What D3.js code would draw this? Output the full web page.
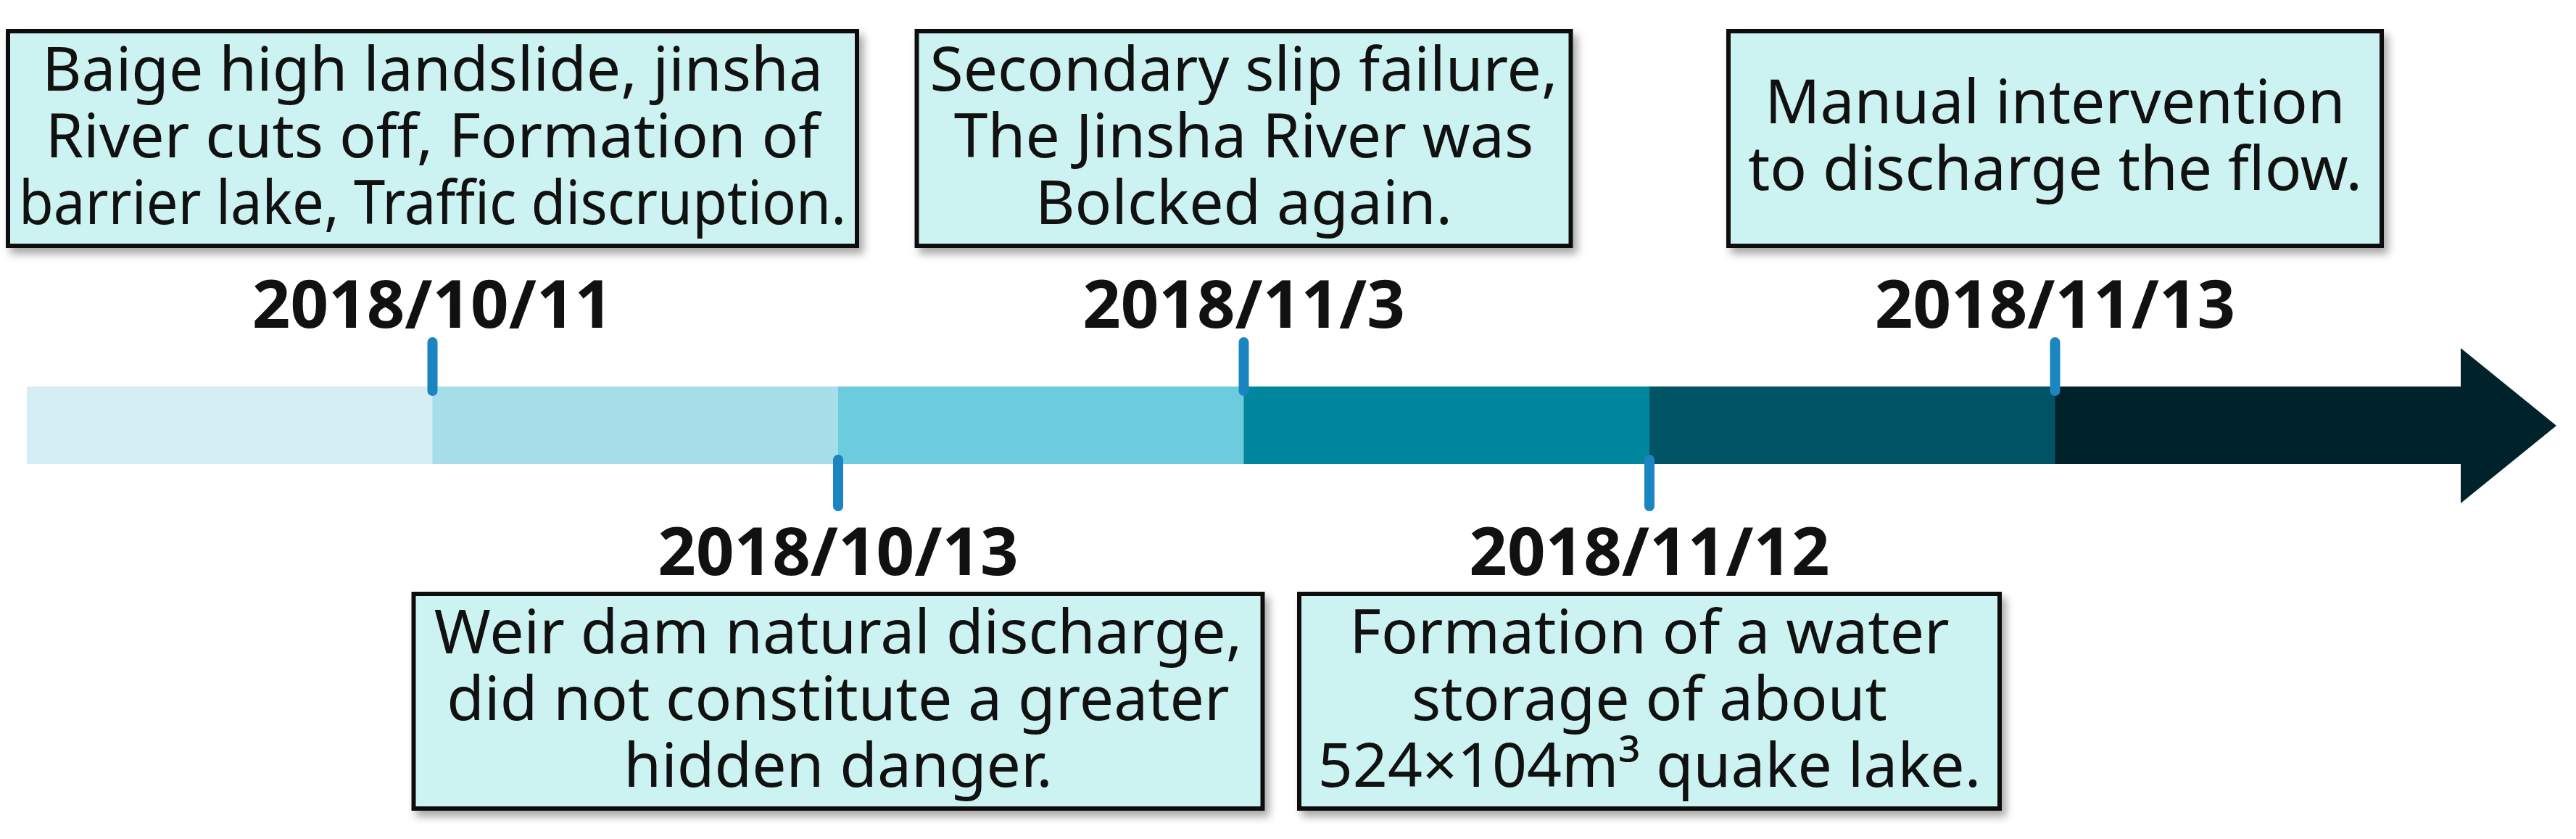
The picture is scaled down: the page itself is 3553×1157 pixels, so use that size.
<!DOCTYPE html>
<html>
<head>
<meta charset="utf-8">
<script src="https://cdn.jsdelivr.net/npm/d3@7"></script>
<style>
  body { margin: 0; background: #fff; }
  text { font-family: "Noto Sans", "Open Sans", sans-serif; }
</style>
</head>
<body>
<svg id="chart" width="3553" height="1157"></svg>
<script>
const dates = ["2018/10/11", "2018/10/13", "2018/11/3", "2018/11/12", "2018/11/13"];
const sides = ["top", "bottom", "top", "bottom", "top"];
const notes = [
  ["Baige high landslide, jinsha", "River cuts off, Formation of", "barrier lake, Traffic discruption."],
  ["Weir dam natural discharge,", "did not constitute a greater", "hidden danger."],
  ["Secondary slip failure,", "The Jinsha River was", "Bolcked again."],
  ["Formation of a water", "storage of about", "524×104m³ quake lake."],
  ["Manual intervention", "to discharge the flow."]
];
const segColors = ["#d4eef4", "#a6deea", "#6ccbdc", "#00879e", "#005465", "#00232b"];
const boxWidths = [1171, 1171, 902, 966, 901];

const svg = d3.select("#chart");

// the arrow: start, each event, end
const x = d3.scalePoint()
  .domain(["start", ...dates, "end"])
  .range([37, 3394]);

const barTop = 533, barBot = 640;

const defs = svg.append("defs");
const f = defs.append("filter").attr("id", "shadow").attr("x", "-5%").attr("y", "-5%").attr("width", "115%").attr("height", "125%");
f.append("feDropShadow").attr("dx", 6).attr("dy", 8).attr("stdDeviation", 6).attr("flood-color", "#000").attr("flood-opacity", 0.35);

// segments
const stops = x.domain();
svg.selectAll(".seg")
  .data(segColors)
  .enter()
  .append("rect")
  .attr("class", "seg")
  .attr("x", (d, i) => x(stops[i]))
  .attr("y", barTop)
  .attr("width", (d, i) => x(stops[i + 1]) - x(stops[i]) + 1)
  .attr("height", barBot - barTop)
  .attr("fill", (d) => d);

// arrow head
const xe = x("end");
svg.append("path")
  .attr("d", `M${xe},480 L${xe + 132},587 L${xe},694 Z`)
  .attr("fill", segColors[segColors.length - 1]);

// ticks
svg.selectAll(".tick")
  .data(dates)
  .enter()
  .append("line")
  .attr("x1", (d) => x(d)).attr("x2", (d) => x(d))
  .attr("y1", (d, i) => sides[i] === "top" ? 472 : barBot - 6)
  .attr("y2", (d, i) => sides[i] === "top" ? barTop + 6 : 698)
  .attr("stroke", "#1a85c0")
  .attr("stroke-width", 14)
  .attr("stroke-linecap", "round");

// date labels
svg.selectAll(".date")
  .data(dates)
  .enter()
  .append("text")
  .attr("x", (d) => x(d))
  .attr("y", (d, i) => sides[i] === "top" ? 452 : 793)
  .attr("text-anchor", "middle")
  .attr("font-weight", "bold")
  .attr("font-size", 92)
  .attr("fill", "#111")
  .text((d) => d);

// note boxes
dates.forEach((d, i) => {
  const bw = boxWidths[i];
  const top = sides[i] === "top" ? 43 : 819;
  const bh = 296;
  const g = svg.append("g");
  g.append("rect")
    .attr("x", x(d) - bw / 2).attr("y", top)
    .attr("width", bw).attr("height", bh)
    .attr("fill", "#ccf3f2")
    .attr("stroke", "#111")
    .attr("stroke-width", 6)
    .attr("filter", "url(#shadow)");
  const lines = notes[i];
  const first = lines.length === 3 ? top + 82 : top + 127;
  lines.forEach((t, j) => {
    const txt = g.append("text")
      .attr("x", x(d))
      .attr("y", first + j * 92)
      .attr("text-anchor", "middle")
      .attr("font-size", 84)
      .attr("fill", "#111")
      .text(t);
    const maxW = bw - 30;
    const len = txt.node().getComputedTextLength();
    if (len > maxW) {
      txt.attr("textLength", maxW).attr("lengthAdjust", "spacingAndGlyphs");
    }
  });
});
</script>
</body>
</html>
